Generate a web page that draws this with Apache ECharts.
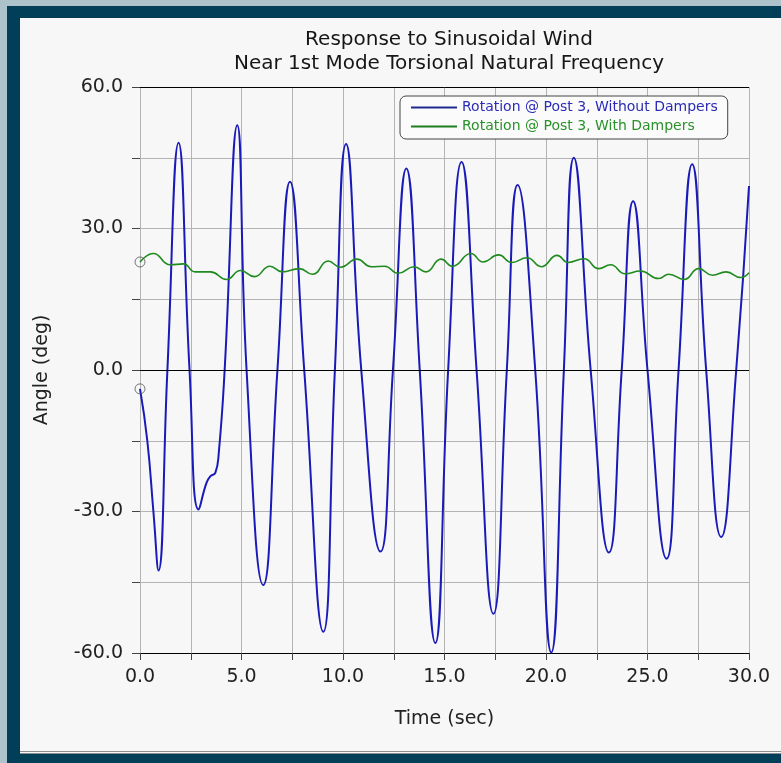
<!DOCTYPE html>
<html>
<head>
<meta charset="utf-8">
<script src="https://cdn.jsdelivr.net/npm/echarts@6/dist/echarts.min.js"></script>
<style>
  html, body { margin: 0; padding: 0; background: #adc2ca; }
  #frame { position: absolute; left: 7px; top: 6px; width: 774px; height: 757px; background: #003f57; }
  #panel { position: absolute; left: 20px; top: 18px; width: 761px; height: 733px; background: #f7f7f7; border-bottom: 3px double #8c8c8c; }
  #container1 { position: absolute; left: 0; top: 0; width: 781px; height: 763px; }
</style>
</head>
<body>
<div id="frame"></div>
<div id="panel"></div>
<div id="container1"></div>
<script>
// time (s) / angle (deg)
var tBlue = [0, 0.36, 0.66, 0.91, 1.35, 1.90, 2.44, 2.89, 3.27, 3.47, 3.71, 3.88, 4.17, 4.79, 5.25, 6.07, 6.77, 7.39, 8.09, 9.03,
             9.6, 10.15, 10.9, 11.85, 12.46, 13.12, 13.78, 14.55, 15.18, 15.84, 16.58, 17.41, 18.07, 18.6, 19.47, 20.26,
             20.88, 21.37, 22.2, 23.1, 23.73, 24.29, 25.0, 25.94, 26.53, 27.2, 27.89, 28.63, 29.37, 30.0];
var vBlue = [-4, -15, -30, -42.5, 0, 48.2, 0, -29.6, -24, -22.5, -21.8, -17.6, 0, 51.9, 0, -45.6, 0, 39.9, 0, -55.5,
             0, 47.9, 0, -38.5, 0, 42.7, 0, -57.9, 0, 44.1, 0, -51.7, 0, 39.2, 0, -59.9,
             0, 45.0, 0, -38.7, 0, 35.8, 0, -40.0, 0, 43.6, 0, -35.4, 0, 39.0];

var tGreen = [0, 0.66, 1.49, 2.14, 2.72, 3.47, 4.26, 4.95, 5.64, 6.40, 7.01, 7.84, 8.50, 9.27, 9.87, 10.69, 11.39, 12.05,
              12.71, 13.5, 14.08, 14.83, 15.4, 16.3, 16.9, 17.66, 18.32, 19.06, 19.77, 20.55, 21.09, 21.87, 22.6, 23.18,
              23.9, 24.65, 25.55, 26.05, 26.8, 27.52, 28.2, 28.87, 29.6, 30.0];
var vGreen = [22.9, 24.7, 22.3, 22.5, 20.8, 20.8, 19.2, 21.1, 19.8, 22.0, 20.8, 21.5, 20.3, 23.1, 21.8, 23.5, 21.9, 22.0,
              20.5, 21.9, 20.8, 23.5, 22.0, 24.7, 22.9, 24.4, 22.8, 23.8, 21.9, 24.3, 22.8, 23.6, 21.5, 22.3,
              20.4, 21.0, 19.4, 20.3, 19.2, 21.5, 20.1, 20.8, 19.6, 20.6];

var names = ['Rotation @ Post 3, Without Dampers', 'Rotation @ Post 3, With Dampers'];
var xTicks = [0, 30, 2.5];   // min, max, step
var yTicks = [-60, 60, 15];

function pairs(t, v) {
  var out = [];
  for (var i = 0; i < t.length; i++) out.push([t[i], v[i]]);
  return out;
}

var myChart = echarts.init(document.getElementById('container1'));
var font = 'DejaVu Sans';
var option = {
  backgroundColor: 'transparent',
  animation: false,
  title: {
    text: 'Response to Sinusoidal Wind\nNear 1st Mode Torsional Natural Frequency',
    left: 444, top: 23, textAlign: 'center',
    textStyle: { fontFamily: font, fontSize: 20, fontWeight: 'normal', color: '#161616', lineHeight: 24 }
  },
  legend: {
    orient: 'vertical',
    left: 400, top: 96,
    padding: [4, 10, 5, 11],
    itemGap: 4,
    itemWidth: 46, itemHeight: 2,
    icon: 'rect',
    backgroundColor: '#fbfbfb',
    borderColor: '#444', borderWidth: 1, borderRadius: 6,
    textStyle: { fontFamily: font, fontSize: 14, lineHeight: 15 },
    data: [
      { name: names[0], textStyle: { color: '#2b2bb8' }, itemStyle: { color: '#1f2a90' } },
      { name: names[1], textStyle: { color: '#2a922a' }, itemStyle: { color: '#1d7f1d' } }
    ]
  },
  grid: { left: 140, right: 32, top: 87, bottom: 110 },
  xAxis: {
    type: 'value', min: xTicks[0], max: xTicks[1], interval: xTicks[2],
    name: 'Time (sec)', nameLocation: 'middle', nameGap: 57,
    nameTextStyle: { fontFamily: font, fontSize: 19, color: '#222' },
    axisLine: { onZero: false, lineStyle: { color: '#000', width: 1 } },
    axisTick: { length: 7, lineStyle: { color: '#444' } },
    axisLabel: {
      margin: 15, fontFamily: font, fontSize: 19, color: '#222',
      formatter: function (v) { return v % 5 === 0 ? v.toFixed(1) : ''; }
    },
    splitLine: { lineStyle: { color: '#b4b4b4', width: 1 } }
  },
  yAxis: {
    type: 'value', min: yTicks[0], max: yTicks[1], interval: yTicks[2],
    name: 'Angle (deg)', nameLocation: 'middle', nameGap: 88,
    nameTextStyle: { fontFamily: font, fontSize: 19, color: '#222' },
    axisLine: { show: false },
    axisTick: { show: true, length: 8, lineStyle: { color: '#444' } },
    axisLabel: {
      margin: 17, fontFamily: font, fontSize: 19, color: '#222',
      formatter: function (v) { return v % 30 === 0 ? v.toFixed(1) : ''; }
    },
    splitLine: { lineStyle: { color: '#b4b4b4', width: 1 } }
  },
  series: [
    {
      name: names[0], type: 'line', data: pairs(tBlue, vBlue),
      smooth: 0.5, symbol: 'none', z: 3,
      lineStyle: { color: '#1a1ab8', width: 2 },
      itemStyle: { color: '#1a1ab8' },
      markLine: {
        silent: true, symbol: 'none', label: { show: false },
        lineStyle: { color: '#000', width: 1, type: 'solid' },
        data: [{ yAxis: 0 }, { yAxis: yTicks[1] }]
      }
    },
    {
      name: names[1], type: 'line', data: pairs(tGreen, vGreen),
      smooth: 0.5, symbol: 'none', z: 4,
      lineStyle: { color: '#1f8a1f', width: 1.6 },
      itemStyle: { color: '#1f8a1f' }
    },
    {
      name: 'start', type: 'scatter', z: 5,
      data: [[tBlue[0], vBlue[0]], [tGreen[0], vGreen[0]]],
      symbol: 'circle', symbolSize: 10,
      itemStyle: { color: 'rgba(0,0,0,0)', borderColor: '#555', borderWidth: 1 }
    }
  ]
};
myChart.setOption(option, true);
</script>
</body>
</html>
